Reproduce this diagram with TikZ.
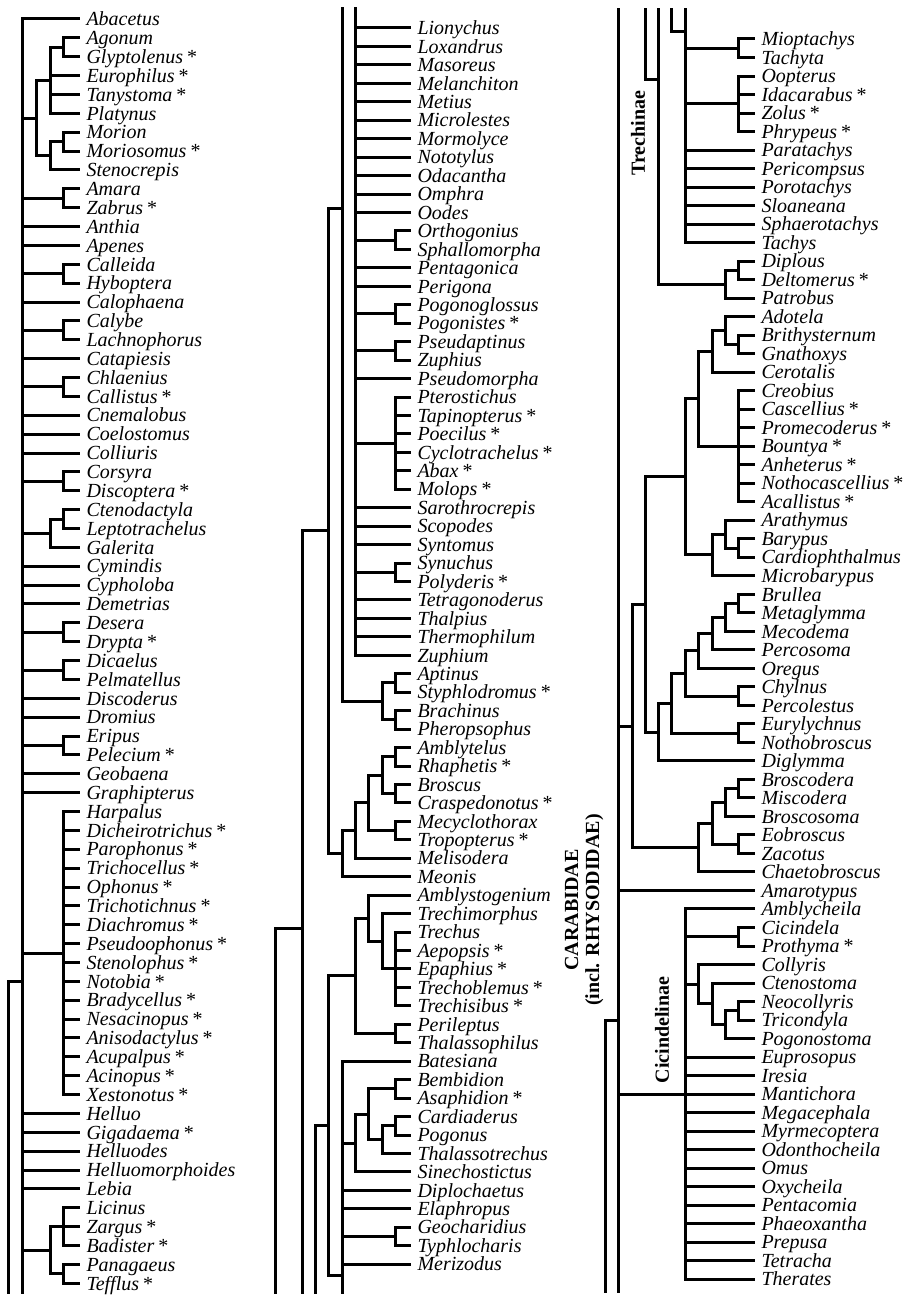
\documentclass[tikz,border=0pt]{standalone}
\usepackage{fontspec}
\setmainfont{Liberation Serif}
\newcommand{\st}{\hspace{0.2em}\textup{*}}

\begin{document}
\begin{tikzpicture}[line cap=rect,line join=miter,x=1pt,y=-1pt,
  branch/.style={line width=3pt},
  leaf/.style={anchor=west,inner xsep=7pt,inner ysep=0pt,text height=17pt,text depth=3.6pt,
    font=\fontsize{20}{21}\selectfont\itshape},
  grp/.style={rotate=90,inner sep=0pt,font=\fontsize{20}{21}\selectfont\bfseries}]
\useasboundingbox (0,0) rectangle (904,1295);
% left column
\begin{scope}[y=-18.87pt,yshift=-0.13pt,branch]
\foreach \n [count=\i] in {Abacetus,Agonum,Glyptolenus\st,Europhilus\st,Tanystoma\st,Platynus,Morion,Moriosomus\st,Stenocrepis,Amara,Zabrus\st,Anthia,Apenes,Calleida,Hyboptera,Calophaena,Calybe,Lachnophorus,Catapiesis,Chlaenius,Callistus\st,Cnemalobus,Coelostomus,Colliuris,Corsyra,Discoptera\st,Ctenodactyla,Leptotrachelus,Galerita,Cymindis,Cypholoba,Demetrias,Desera,Drypta\st,Dicaelus,Pelmatellus,Discoderus,Dromius,Eripus,Pelecium\st,Geobaena,Graphipterus,Harpalus,Dicheirotrichus\st,Parophonus\st,Trichocellus\st,Ophonus\st,Trichotichnus\st,Diachromus\st,Pseudoophonus\st,Stenolophus\st,Notobia\st,Bradycellus\st,Nesacinopus\st,Anisodactylus\st,Acupalpus\st,Acinopus\st,Xestonotus\st,Helluo,Gigadaema\st,Helluodes,Helluomorphoides,Lebia,Licinus,Zargus\st,Badister\st,Panagaeus,Tefflus\st}
  \node[leaf] (a\i) at (78,\i) {\n};
\foreach \i in {2,7,10,14,17,20,25,27,33,35,39,67}
  {\pgfmathtruncatemacro\j{\i+1}
   \coordinate (pa\i) at (63,{\i+0.5});
   \draw (pa\i) |- (a\i.west) (pa\i) |- (a\j.west);}
\coordinate (platy) at (50,4.25);
\foreach \c in {pa2,a4.west,a5.west,a6.west} \draw (platy) |- (\c);
\coordinate (steno) at (50,8.25);
\foreach \c in {pa7,a9.west} \draw (steno) |- (\c);
\coordinate (platini) at (36,6.25);
\foreach \c in {platy,steno} \draw (platini) |- (\c);
\coordinate (galer) at (50,28.25);
\foreach \c in {pa27,a29.west} \draw (galer) |- (\c);
\coordinate (harpal) at (63,50.5);
\foreach \i in {43,...,58} \draw (harpal) |- (a\i.west);
\coordinate (licin) at (63,65);
\foreach \i in {64,65,66} \draw (licin) |- (a\i.west);
\coordinate (licini) at (50,66.25);
\foreach \c in {licin,pa67} \draw (licini) |- (\c);
\coordinate (root1) at (22,52);
\coordinate (root1b) at (22,68.5);
\coordinate (root0b) at (8,68.5);
\foreach \c in {a1.west,platini,pa10,a12.west,a13.west,pa14,a16.west,pa17,a19.west,pa20,a22.west,a23.west,a24.west,pa25,galer,a30.west,a31.west,a32.west,pa33,pa35,a37.west,a38.west,pa39,a41.west,a42.west,harpal,a59.west,a60.west,a61.west,a62.west,a63.west,licini,root1b}
  \draw (root1) |- (\c);
\draw (root0b) |- (root1);
\end{scope}
% middle column
\begin{scope}[y=-18.45pt,yshift=-9.55pt,branch]
\foreach \n [count=\i] in {Lionychus,Loxandrus,Masoreus,Melanchiton,Metius,Microlestes,Mormolyce,Nototylus,Odacantha,Omphra,Oodes,Orthogonius,Sphallomorpha,Pentagonica,Perigona,Pogonoglossus,Pogonistes\st,Pseudaptinus,Zuphius,Pseudomorpha,Pterostichus,Tapinopterus\st,Poecilus\st,Cyclotrachelus\st,Abax\st,Molops\st,Sarothrocrepis,Scopodes,Syntomus,Synuchus,Polyderis\st,Tetragonoderus,Thalpius,Thermophilum,Zuphium,Aptinus,Styphlodromus\st,Brachinus,Pheropsophus,Amblytelus,Rhaphetis\st,Broscus,Craspedonotus\st,Mecyclothorax,Tropopterus\st,Melisodera,Meonis,Amblystogenium,Trechimorphus,Trechus,Aepopsis\st,Epaphius\st,Trechoblemus\st,Trechisibus\st,Perileptus,Thalassophilus,Batesiana,Bembidion,Asaphidion\st,Cardiaderus,Pogonus,Thalassotrechus,Sinechostictus,Diplochaetus,Elaphropus,Geocharidius,Typhlocharis,Merizodus}
  \node[leaf] (b\i) at (409,\i) {\n};
\foreach \i in {12,16,18,30,36,38,40,42,44,55,58,60,66}
  {\pgfmathtruncatemacro\j{\i+1}
   \coordinate (pb\i) at (395,{\i+0.5});
   \draw (pb\i) |- (b\i.west) (pb\i) |- (b\j.west);}
\coordinate (pteros) at (395,23.5);
\foreach \i in {21,...,26} \draw (pteros) |- (b\i.west);
\coordinate (lebtop) at (355,-0.08);
\foreach \i in {1,...,11,14,15,20,27,28,29,32,33,34,35} \draw (lebtop) |- (b\i.west);
\foreach \c in {pb12,pb16,pb18,pteros,pb30} \draw (lebtop) |- (\c);
\coordinate (brachini) at (382,37.5);
\foreach \c in {pb36,pb38} \draw (brachini) |- (\c);
\coordinate (n342top) at (342,-0.08);
\coordinate (n342) at (342,10.76);
\draw (n342top) |- (brachini);
\coordinate (broscA) at (382,41.5);
\foreach \c in {pb40,pb42} \draw (broscA) |- (\c);
\coordinate (broscB) at (368,43);
\foreach \c in {broscA,pb44} \draw (broscB) |- (\c);
\coordinate (melis) at (355,44.5);
\foreach \c in {broscB,b46.west} \draw (melis) |- (\c);
\coordinate (meon) at (342,45.75);
\foreach \c in {melis,b47.west} \draw (meon) |- (\c);
\coordinate (n328) at (328,28.25);
\foreach \c in {n342,meon} \draw (n328) |- (\c);
\coordinate (n302b) at (302,69.51);
\coordinate (n302) at (302,49.83);
\coordinate (n275b) at (275,69.51);
\draw (n302b) |- (n328);
\draw (n275b) |- (n302);
\coordinate (trechus) at (395,52);
\foreach \i in {50,...,54} \draw (trechus) |- (b\i.west);
\coordinate (trechim) at (382,50.5);
\foreach \c in {b49.west,trechus} \draw (trechim) |- (\c);
\coordinate (amblys) at (368,49.25);
\foreach \c in {b48.west,trechim} \draw (amblys) |- (\c);
\coordinate (trechini) at (355,52.375);
\foreach \c in {amblys,pb55} \draw (trechini) |- (\c);
\coordinate (thalasso) at (382,61.25);
\foreach \c in {pb60,b62.west} \draw (thalasso) |- (\c);
\coordinate (bembA) at (368,59.875);
\foreach \c in {pb58,thalasso} \draw (bembA) |- (\c);
\coordinate (sinech) at (355,61.44);
\foreach \c in {bembA,b63.west} \draw (sinech) |- (\c);
\coordinate (n342low) at (342,68.59);
\coordinate (n342b) at (342,69.51);
\foreach \c in {b57.west,sinech,b64.west,b65.west,pb66,b68.west,n342b} \draw (n342low) |- (\c);
\coordinate (n328low) at (328,60.48);
\foreach \c in {trechini,n342low} \draw (n328low) |- (\c);
\coordinate (n315b) at (315,69.51);
\draw (n315b) |- (n328low);
\end{scope}
% right column
\begin{scope}[y=-18.51pt,yshift=-20.49pt,branch]
\foreach \n [count=\i] in {Mioptachys,Tachyta,Oopterus,Idacarabus\st,Zolus\st,Phrypeus\st,Paratachys,Pericompsus,Porotachys,Sloaneana,Sphaerotachys,Tachys,Diplous,Deltomerus\st,Patrobus,Adotela,Brithysternum,Gnathoxys,Cerotalis,Creobius,Cascellius\st,Promecoderus\st,Bountya\st,Anheterus\st,Nothocascellius\st,Acallistus\st,Arathymus,Barypus,Cardiophthalmus,Microbarypus,Brullea,Metaglymma,Mecodema,Percosoma,Oregus,Chylnus,Percolestus,Eurylychnus,Nothobroscus,Diglymma,Broscodera,Miscodera,Broscosoma,Eobroscus,Zacotus,Chaetobroscus,Amarotypus,Amblycheila,Cicindela,Prothyma\st,Collyris,Ctenostoma,Neocollyris,Tricondyla,Pogonostoma,Euprosopus,Iresia,Mantichora,Megacephala,Myrmecoptera,Odonthocheila,Omus,Oxycheila,Pentacomia,Phaeoxantha,Prepusa,Tetracha,Therates}
  \node[leaf] (c\i) at (753,\i) {\n};
\foreach \i in {1,13,17,28,31,36,38,41,44,49,53}
  {\pgfmathtruncatemacro\j{\i+1}
   \coordinate (pc\i) at (738,{\i+0.5});
   \draw (pc\i) |- (c\i.west) (pc\i) |- (c\j.west);}
\coordinate (oopt) at (738,4.5);
\foreach \i in {3,...,6} \draw (oopt) |- (c\i.west);
\coordinate (creob) at (738,23);
\foreach \i in {20,...,26} \draw (creob) |- (c\i.west);
\coordinate (n685top) at (685,-0.57);
\foreach \c in {pc1,oopt,c7.west,c8.west,c9.west,c10.west,c11.west,c12.west} \draw (n685top) |- (\c);
\coordinate (n685) at (685,0.57);
\coordinate (n671top) at (671,-0.57);
\draw (n671top) |- (n685);
\coordinate (patro) at (725,14.25);
\foreach \c in {pc13,c15.west} \draw (patro) |- (\c);
\coordinate (n658top) at (658,-0.57);
\coordinate (n658) at (658,3.215);
\coordinate (n645top) at (645,-0.57);
\draw (n658top) |- (patro);
\draw (n645top) |- (n658);
\coordinate (adot) at (725,16.75);
\foreach \c in {c16.west,pc17} \draw (adot) |- (\c);
\coordinate (cerot) at (712,17.875);
\foreach \c in {adot,c19.west} \draw (cerot) |- (\c);
\coordinate (cnemA) at (698,20.44);
\foreach \c in {cerot,creob} \draw (cnemA) |- (\c);
\coordinate (arathy) at (725,27.75);
\foreach \c in {c27.west,pc28} \draw (arathy) |- (\c);
\coordinate (microb) at (712,28.875);
\foreach \c in {arathy,c30.west} \draw (microb) |- (\c);
\coordinate (cnemB) at (685,24.66);
\foreach \c in {cnemA,microb} \draw (cnemB) |- (\c);
\coordinate (mecod) at (725,32.25);
\foreach \c in {pc31,c33.west} \draw (mecod) |- (\c);
\coordinate (percos) at (712,33.125);
\foreach \c in {mecod,c34.west} \draw (percos) |- (\c);
\coordinate (oreg) at (698,34.06);
\foreach \c in {percos,c35.west} \draw (oreg) |- (\c);
\coordinate (chyl) at (685,35.28);
\foreach \c in {oreg,pc36} \draw (chyl) |- (\c);
\coordinate (euryl) at (671,36.89);
\foreach \c in {chyl,pc38} \draw (euryl) |- (\c);
\coordinate (diglym) at (658,38.445);
\foreach \c in {euryl,c40.west} \draw (diglym) |- (\c);
\coordinate (bro1) at (645,31.55);
\foreach \c in {cnemB,diglym} \draw (bro1) |- (\c);
\coordinate (miscod) at (725,42.25);
\foreach \c in {pc41,c43.west} \draw (miscod) |- (\c);
\coordinate (zacot) at (712,43.375);
\foreach \c in {miscod,pc44} \draw (zacot) |- (\c);
\coordinate (chaeto) at (698,44.69);
\foreach \c in {zacot,c46.west} \draw (chaeto) |- (\c);
\coordinate (bro2) at (632,38.12);
\foreach \c in {bro1,chaeto} \draw (bro2) |- (\c);
\coordinate (tricon) at (725,54.25);
\foreach \c in {pc53,c55.west} \draw (tricon) |- (\c);
\coordinate (cteno) at (712,53.125);
\foreach \c in {c52.west,tricon} \draw (cteno) |- (\c);
\coordinate (colly) at (698,52.06);
\foreach \c in {c51.west,cteno} \draw (colly) |- (\c);
\coordinate (cicin) at (685,58);
\foreach \c in {c48.west,pc49,colly} \draw (cicin) |- (\c);
\foreach \i in {56,...,68} \draw (cicin) |- (c\i.west);
\coordinate (root3) at (618,54);
\coordinate (root3t) at (618,-0.57);
\coordinate (root3b) at (618,68.69);
\coordinate (n605b) at (605,68.69);
\foreach \c in {root3t,bro2,c47.west,cicin,root3b} \draw (root3) |- (\c);
\draw (n605b) |- (root3);
\end{scope}
% group labels
\node[grp] (trechinae) at (638,133) {Trechinae};
\node[grp] (cicindelinae) at (662,1030) {Cicindelinae};
\node[grp,align=center] (carabidae) at (584,910) {CARABIDAE\\(incl. RHYSODIDAE)};
\end{tikzpicture}
\end{document}
